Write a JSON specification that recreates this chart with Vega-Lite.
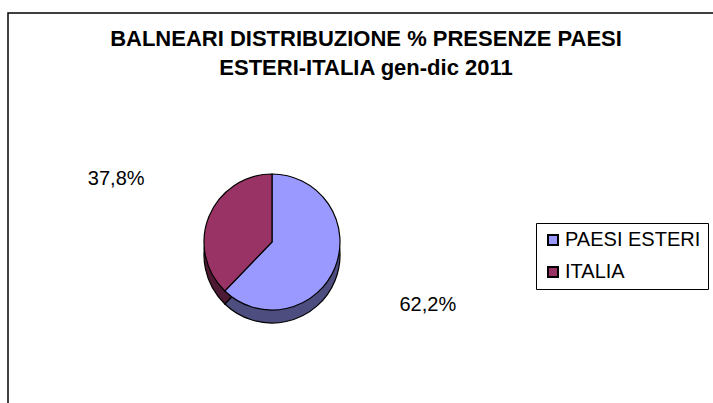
{
  "$schema": "https://vega.github.io/schema/vega-lite/v6.json",
  "width": 710,
  "height": 400,
  "autosize": "none",
  "padding": {"left": 8, "top": 13, "right": 0, "bottom": 0},
  "background": "white",
  "view": {"stroke": "black", "strokeWidth": 1.5, "fill": "white"},
  "title": {
    "text": ["BALNEARI DISTRIBUZIONE % PRESENZE PAESI", "ESTERI-ITALIA gen-dic 2011"],
    "font": "Liberation Sans",
    "fontSize": 22,
    "fontWeight": "bold",
    "color": "black",
    "anchor": "start",
    "align": "center",
    "frame": "group",
    "dx": 358,
    "dy": 49,
    "orient": "top",
    "baseline": "top",
    "offset": -18,
    "lineHeight": 29
  },
  "data": {
    "values": [
      {"paese": "PAESI ESTERI", "pct": 62.2, "label": "62,2%"},
      {"paese": "ITALIA", "pct": 37.8, "label": "37,8%"}
    ]
  },
  "encoding": {
    "theta": {"field": "pct", "type": "quantitative", "stack": true},
    "order": {"field": "pct", "sort": "descending"},
    "x": {"value": 264},
    "y": {"value": 229}
  },
  "layer": [
    {
      "mark": {"type": "arc", "outerRadius": 68, "yOffset": 13, "stroke": "black", "strokeWidth": 1.2},
      "encoding": {
        "fill": {
          "condition": {"test": "datum.paese === 'ITALIA'", "value": "#4d1933"},
          "value": "#4d4d80"
        }
      }
    },
    {
      "mark": {"type": "arc", "outerRadius": 68, "stroke": "black", "strokeWidth": 1.2},
      "encoding": {
        "color": {
          "field": "paese",
          "type": "nominal",
          "scale": {"domain": ["PAESI ESTERI", "ITALIA"], "range": ["#9999ff", "#993366"]},
          "legend": {
            "orient": "none",
            "legendX": 528,
            "legendY": 210,
            "title": null,
            "strokeColor": "black",
            "fillColor": "white",
            "padding": 7,
            "symbolType": "square",
            "symbolSize": 100,
            "symbolStrokeColor": "black",
            "symbolStrokeWidth": 2,
            "symbolOpacity": 1,
            "labelFont": "Liberation Sans",
            "labelFontSize": 20,
            "labelColor": "black",
            "labelOffset": 2,
            "labelLimit": 300,
            "rowPadding": 12
          }
        }
      }
    },
    {
      "mark": {"type": "text", "radius": 168, "font": "Liberation Sans", "fontSize": 20, "color": "black", "align": "center", "baseline": "middle"},
      "encoding": {
        "text": {"field": "label"}
      }
    }
  ]
}
